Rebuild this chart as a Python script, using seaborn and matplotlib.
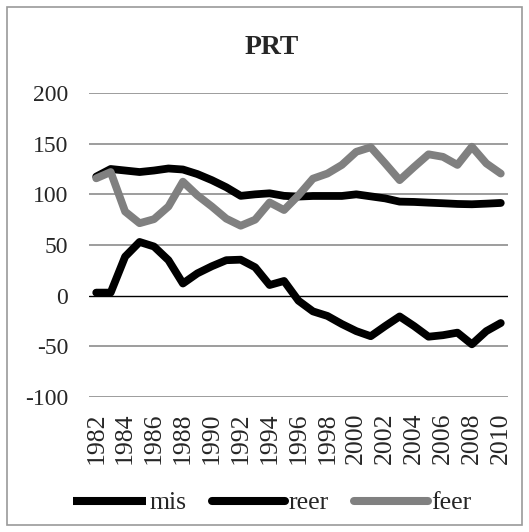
import numpy as np
import pandas as pd
import matplotlib
matplotlib.use("Agg")
import matplotlib.pyplot as plt
from matplotlib.lines import Line2D
from matplotlib.patches import Rectangle
import seaborn as sns

years = list(range(1982, 2011))
mis = [3, 3, 38.5, 53, 48.5, 35, 12, 22, 29, 35, 35.5, 28, 10.5, 14.5, -5,
       -15.5, -20, -28, -35, -40, -30, -20.5, -30, -40.5, -39, -36.5, -48, -35, -27]
reer = [117.5, 125, 123.5, 122, 123.5, 125.5, 124.5, 120, 114, 107, 98.5, 100, 101,
        98.5, 97.8, 98.4, 98.4, 98.4, 100, 98, 96, 92.8, 92.5, 91.8, 91.2, 90.5,
        90.2, 90.8, 91.5]
feer = [115.8, 122, 83, 71.5, 75.5, 88, 112.5, 99, 88, 76, 69, 75, 92, 84.5, 99,
        115.5, 120.5, 129, 142, 146.5, 130.5, 114, 127, 139.5, 137, 129, 147,
        130.5, 120.5]
series_names = ["mis", "reer", "feer"]
colors = {"mis": "#000000", "reer": "#000000", "feer": "#808080"}
yticks = [-100, -50, 0, 50, 100, 150, 200]
xtick_labels = [str(y) for y in years[::2]]
title = "PRT"

sns.set_theme(style="white")
plt.rcParams["font.family"] = ["Liberation Serif", "DejaVu Serif"]

rows = []
for name, vals in zip(series_names, [mis, reer, feer]):
    for i, v in enumerate(vals):
        rows.append({"idx": i, "value": v, "series": name})
df = pd.DataFrame(rows)

W, H = 529, 532
fig = plt.figure(figsize=(W / 100, H / 100), dpi=100)
ax = fig.add_axes([89 / W, (H - 397) / H, 419 / W, 304 / H])

for yv in yticks:
    if yv != 0:
        ax.axhline(yv, color="#8c8c8c", lw=1.2, zorder=1)
ax.axhline(0, color="black", lw=1.0, zorder=2)

sns.lineplot(data=df, x="idx", y="value", hue="series", hue_order=series_names,
             palette=colors, linewidth=5.6, legend=False, ax=ax, zorder=3,
             sort=False)
for ln in ax.lines[-3:]:
    ln.set_solid_joinstyle("round")
    ln.set_solid_capstyle("round")

ax.set_xlim(-0.5, len(years) - 0.5)
ax.set_ylim(-100, 200)
ax.set_yticks(yticks)
ax.set_yticklabels([str(t) for t in yticks], fontsize=17)
ax.set_xticks(list(range(0, len(years), 2)))
ax.set_xticklabels(xtick_labels, rotation=90, fontsize=18.5)
ax.tick_params(axis="y", length=0, pad=15)
ax.tick_params(axis="x", length=0, pad=10.8)
ax.set_xlabel("")
ax.set_ylabel("")
for s in ax.spines.values():
    s.set_visible(False)

fig.text(272 / W, 1 - 54 / H, title, ha="center", va="baseline",
         fontsize=20, fontweight="bold")

handles = []
for name in series_names:
    cap = "butt" if name == "mis" else "round"
    h = Line2D([0], [0], color=colors[name], lw=5.8, solid_capstyle=cap)
    handles.append(h)
fig.legend(handles, series_names, loc="center", bbox_to_anchor=(272 / W, 1 - 503 / H),
           ncol=3, frameon=False, fontsize=18.5, handlelength=2.85, handletextpad=0.12,
           columnspacing=1.0, borderpad=0, borderaxespad=0)

fig.add_artist(Rectangle((7 / W, 7 / H), (W - 14) / W, (H - 14) / H,
                         transform=fig.transFigure, fill=False,
                         edgecolor="#9a9a9a", lw=1.2))

fig.savefig("out.png", dpi=100, facecolor="white")
